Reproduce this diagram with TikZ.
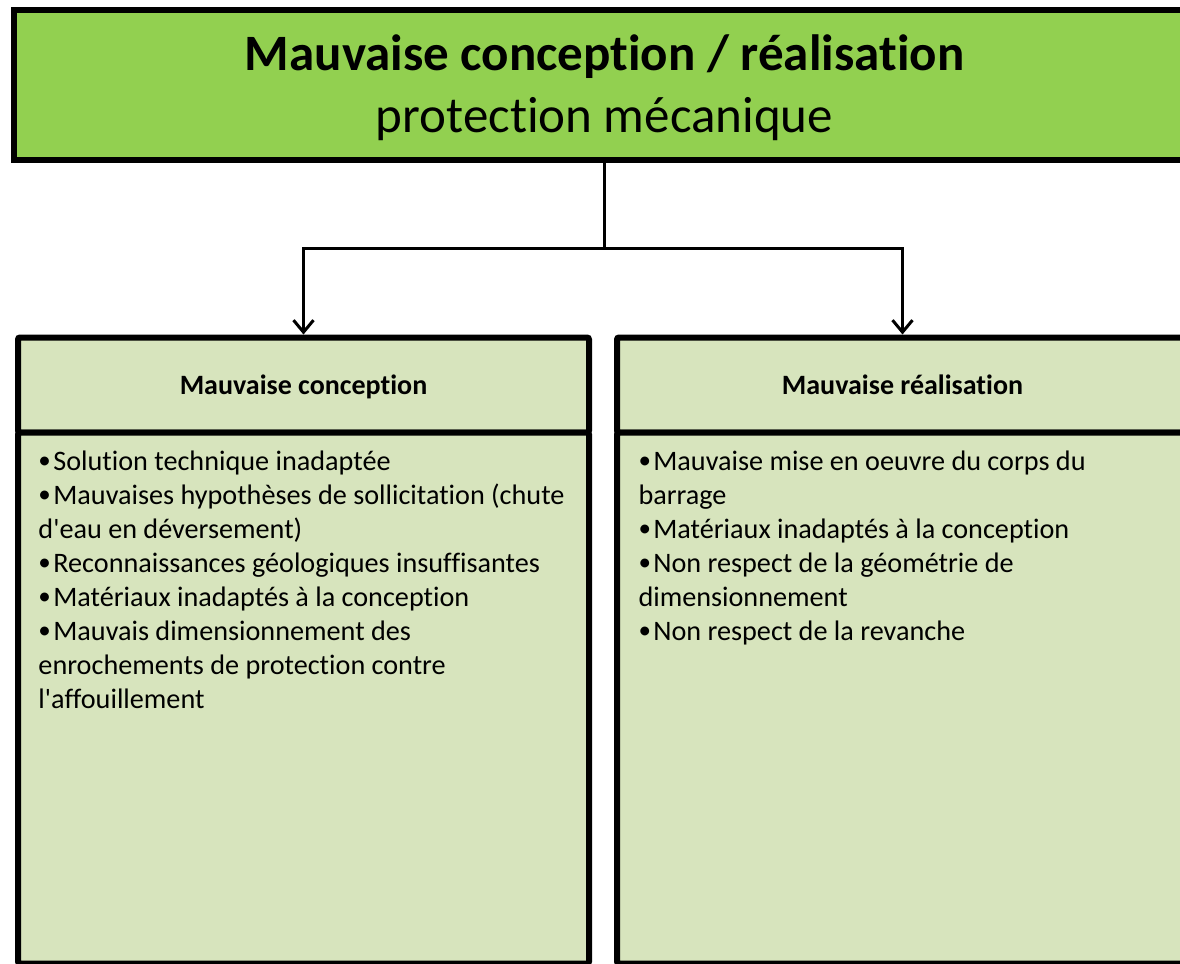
\documentclass[tikz,border=0pt]{standalone}
\usepackage{fontspec}
\setmainfont{Carlito}[Ligatures=NoCommon]
\usepackage{tikz}
\usetikzlibrary{arrows.meta,positioning}
\definecolor{vertfonce}{HTML}{92D050}
\definecolor{vertclair}{HTML}{D7E4BD}
\tikzstyle{titre}=[rectangle,draw=black,line width=3pt,fill=vertfonce,minimum width=590.5pt,minimum height=75pt,align=center,text depth=1.5pt,font=\fontsize{25.5}{31}\selectfont]
\tikzstyle{entete}=[rectangle,rounded corners=1pt,draw=black,line width=3pt,fill=vertclair,minimum width=285.5pt,minimum height=47.5pt,text height=11pt,text depth=2pt,font=\fontsize{14}{17}\selectfont\bfseries]
\tikzstyle{corps}=[rectangle,rounded corners=1pt,draw=black,line width=3pt,fill=vertclair,minimum width=285.5pt,minimum height=265.5pt]
\tikzstyle{liste}=[align=left,inner sep=0pt,font=\fontsize{14.1}{17}\selectfont]
\newcommand{\puce}{\raisebox{0.7pt}{\fontsize{12.5}{17}\selectfont\textbullet}\hspace{1.2pt}}

\begin{document}
\begin{tikzpicture}[x=0.5pt,y=-0.5pt]
	\useasboundingbox (0,0) rectangle (1180,964);
	\clip (0,0) rectangle (1180,964);
	\begin{scope}[>={Straight Barb[length=6pt,width=10pt]},line width=1.5pt]
		\node[titre]	(titre)		at (604.5,85)	{\textbf{Mauvaise conception / réalisation}\\protection mécanique};
		\node[entete]	(conception)	at (303.5,385)	{Mauvaise conception};
		\node[entete]	(realisation)	[right=11pt of conception]	{Mauvaise réalisation};
		\node[corps]	(gauche)	[below=-3pt of conception]	{};
		\node[corps]	(droite)	[below=-3pt of realisation]	{};
		
		\node[liste,anchor=base west]	(listegauche)	at (37,708) {\puce Solution technique inadaptée\\
			\puce Mauvaises hypothèses de sollicitation (chute\\
			d\textquotesingle eau en déversement)\\
			\puce Reconnaissances géologiques insuffisantes\\
			\puce Matériaux inadaptés à la conception\\
			\puce Mauvais dimensionnement des\\
			enrochements de protection contre\\
			l\textquotesingle affouillement};
		\node[liste,anchor=base west]	(listedroite)	at (637,640) {\puce Mauvaise mise en oeuvre du corps du\\
			barrage\\
			\puce Matériaux inadaptés à la conception\\
			\puce Non respect de la géométrie de\\
			dimensionnement\\
			\puce Non respect de la revanche};
		
		\coordinate (jonction) at (titre.south |- 0,248);
		\draw (titre.south) -- (jonction);
		\draw[->] (jonction) -| (conception.north);
		\draw[->] (jonction) -| (realisation.north);
	\end{scope}
\end{tikzpicture}
\end{document}
